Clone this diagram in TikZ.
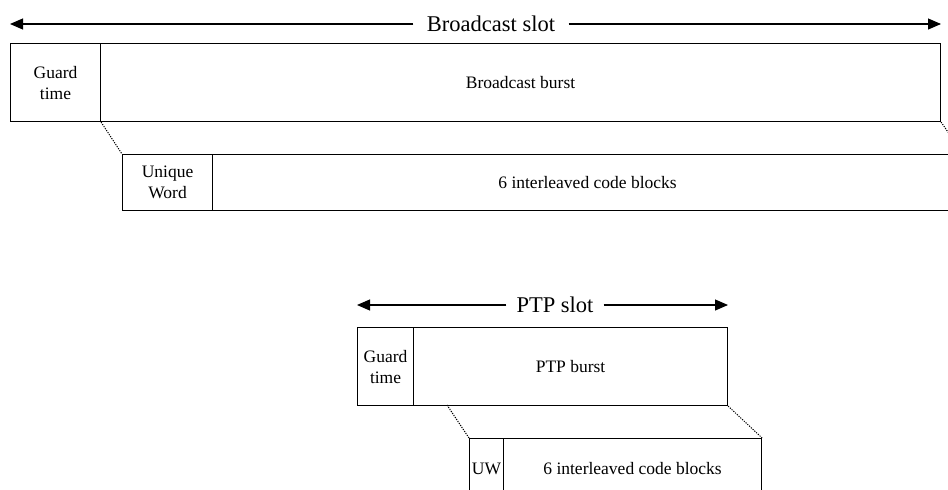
\documentclass[tikz,border=0pt]{standalone}
\usepackage{fontspec}
\setmainfont{Liberation Serif}
\usetikzlibrary{arrows.meta}
\tikzset{
  x=1pt, y=-1pt,
  box/.style={draw, line width=1.1pt, inner sep=0pt, anchor=north west, align=center, font=\fontsize{17.5}{21}\selectfont},
  slotlabel/.style={fill=white, inner sep=0pt, font=\fontsize{22.5}{24}\selectfont},
  span/.style={-{Triangle[length=13pt,width=11pt]}, line width=1.1pt},
  zoomline/.style={dash pattern=on 1.2pt off 1.2pt, line width=1pt, black}
}
\begin{document}
\begin{tikzpicture}
\useasboundingbox (0,0) rectangle (948,490);
\clip (0,0) rectangle (948,490);
% Broadcast slot
\node[slotlabel, minimum width=155pt, minimum height=20pt] (bslot) at (491,24) {Broadcast slot};
\coordinate (bl) at (10,24);
\coordinate (br) at (941,24);
\draw[span] (bslot.west) -- (bl);
\draw[span] (bslot.east) -- (br);
\node[box, minimum width=90pt, minimum height=78pt] (guard) at (10,43) {Guard\\time};
\node[box, minimum width=840pt, minimum height=78pt] (burst) at (100,43) {Broadcast burst};
\node[box, minimum width=90pt, minimum height=56pt] (uw) at (122,154) {Unique\\Word};
\node[box, minimum width=750pt, minimum height=56pt] (cb) at (212,154) {6 interleaved code blocks};
\draw[zoomline] (guard.south east) -- (uw.north west);
\draw[zoomline] (burst.south east) -- (cb.north east);
% PTP slot
\node[slotlabel, minimum width=97pt, minimum height=20pt] (pslot) at (555,305) {PTP slot};
\coordinate (pl) at (357,305);
\coordinate (pr) at (728,305);
\draw[span] (pslot.west) -- (pl);
\draw[span] (pslot.east) -- (pr);
\node[box, minimum width=56pt, minimum height=78pt] (pguard) at (357,327) {Guard\\time};
\node[box, minimum width=314pt, minimum height=78pt] (pburst) at (413,327) {PTP burst};
\node[box, minimum width=34pt, minimum height=60pt] (puw) at (469,438) {UW};
\node[box, minimum width=258pt, minimum height=60pt] (pcb) at (503,438) {6 interleaved code blocks};
\coordinate (pz) at (447,405);
\draw[zoomline] (pz) -- (puw.north west);
\draw[zoomline] (pburst.south east) -- (pcb.north east);
\end{tikzpicture}
\end{document}
